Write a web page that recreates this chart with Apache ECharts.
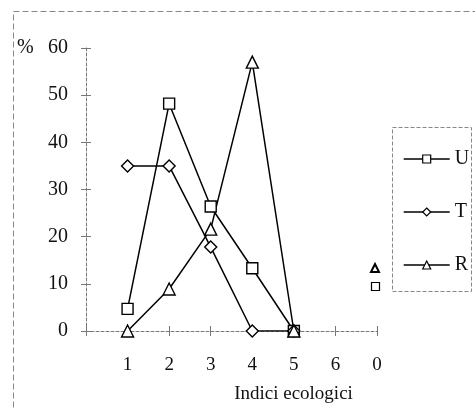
<!DOCTYPE html>
<html>
<head>
<meta charset="utf-8">
<script src="https://cdn.jsdelivr.net/npm/echarts@6/dist/echarts.min.js"></script>
<style>
  html, body { margin: 0; padding: 0; background: #fff; }
  #chart { width: 475px; height: 409px; }
</style>
</head>
<body>
<div id="chart"></div>
<script>
// Ecological indices (x) and share of species in each class (%)
const indices = [1, 2, 3, 4, 5];
const tickLabels = ['', '1', '2', '3', '4', '5', '6', '0'];
const seriesU = [4.7, 48.2, 26.4, 13.3, 0];
const seriesT = [35, 35, 17.8, 0, 0];
const seriesR = [0, 8.9, 21.6, 57, 0];

const FONT = 'Liberation Serif';
const chart = echarts.init(document.getElementById('chart'), null, { renderer: 'canvas' });

const pair = (vals) => indices.map((x, i) => [x, vals[i]]);

const lineSeries = (name, symbol, vals, size) => ({
  name,
  type: 'line',
  data: pair(vals),
  symbol,
  symbolSize: size,
  showSymbol: true,
  lineStyle: { color: '#000', width: 1.5 },
  itemStyle: { color: '#fff', borderColor: '#000', borderWidth: 1.4 },
  z: 3
});

const axisLine = { show: true, lineStyle: { color: '#777', type: [3, 2], width: 1 } };

chart.setOption({
  animation: false,
  backgroundColor: '#fff',
  grid: { left: 86, top: 48, width: 291, height: 283, containLabel: false },
  xAxis: [{
    type: 'value', min: 0, max: 7, interval: 1,
    axisLine,
    axisTick: { show: true, length: 5, inside: false, lineStyle: { color: '#777' } },
    splitLine: { show: false },
    axisLabel: {
      formatter: (v) => tickLabels[v] || '',
      color: '#111', fontFamily: FONT, fontSize: 19, margin: 25
    },
    name: 'Indici ecologici',
    nameLocation: 'middle',
    nameGap: 54,
    nameTextStyle: { color: '#111', fontFamily: FONT, fontSize: 19, padding: [0, 0, 0, 124] }
  }, {
    type: 'value', min: 0, max: 7, interval: 1, position: 'bottom',
    axisLine: { show: false },
    axisTick: { show: true, length: 5, inside: true, lineStyle: { color: '#777' } },
    axisLabel: { show: false }, splitLine: { show: false }
  }],
  yAxis: [{
    type: 'value', min: 0, max: 60, interval: 10,
    axisLine,
    axisTick: { show: true, length: 5, inside: false, lineStyle: { color: '#777' } },
    splitLine: { show: false },
    axisLabel: { color: '#111', fontFamily: FONT, fontSize: 20, margin: 18 }
  }, {
    type: 'value', min: 0, max: 60, interval: 10, position: 'left',
    axisLine: { show: false },
    axisTick: { show: true, length: 5, inside: true, lineStyle: { color: '#777' } },
    axisLabel: { show: false }, splitLine: { show: false }
  }],
  legend: {
    orient: 'vertical',
    left: 398, top: 144,
    itemWidth: 46, itemHeight: 10,
    itemGap: 33,
    itemStyle: { borderWidth: 1.2 },
    lineStyle: { width: 1.4 },
    textStyle: { color: '#111', fontFamily: FONT, fontSize: 20 },
    data: ['U', 'T', 'R']
  },
  series: [
    lineSeries('U', 'rect', seriesU, 11),
    lineSeries('T', 'diamond', seriesT, 12),
    lineSeries('R', 'triangle', seriesR, 12)
  ],
  graphic: [
    // outer frame
    { type: 'rect', shape: { x: 13.5, y: 11.5, width: 480, height: 420 },
      style: { fill: 'none', stroke: '#888', lineWidth: 1, lineDash: [6, 3] }, silent: true },
    // legend frame
    { type: 'rect', shape: { x: 392.5, y: 127.5, width: 79, height: 164 },
      style: { fill: 'none', stroke: '#888', lineWidth: 1, lineDash: [4, 2] }, silent: true },
    // unit label
    { type: 'text', x: 17, y: 38,
      style: { text: '%', fill: '#111', font: '20px "Liberation Serif"' } },
    // small stray glyphs beside the legend
    { type: 'polygon', shape: { points: [[371, 272], [375, 264], [379, 272]] },
      style: { fill: '#fff', stroke: '#000', lineWidth: 2 } },
    { type: 'rect', shape: { x: 371.5, y: 282.5, width: 8, height: 8 },
      style: { fill: '#fff', stroke: '#000', lineWidth: 1.2 } }
  ]
});
</script>
</body>
</html>
